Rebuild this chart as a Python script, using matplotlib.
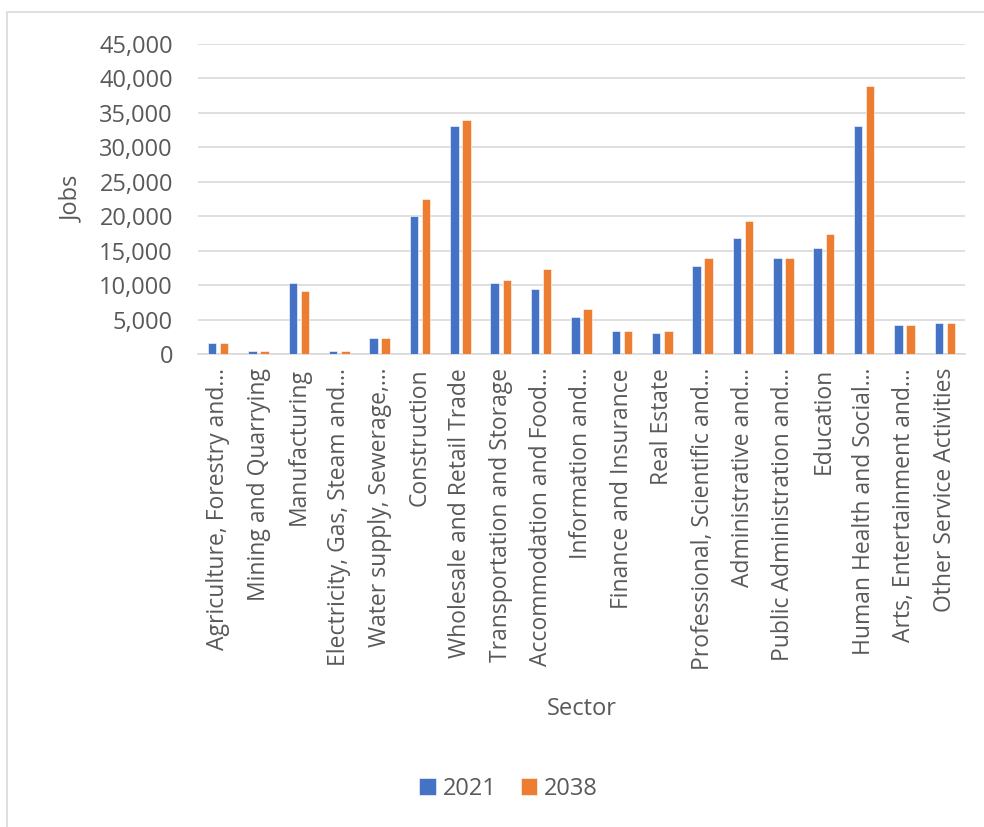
import matplotlib
matplotlib.use("Agg")
import matplotlib.pyplot as plt
import numpy as np
from matplotlib.patches import Rectangle
from matplotlib.ticker import FuncFormatter

plt.rcParams["font.family"] = ["Open Sans", "DejaVu Sans"]

# ---------------------------------------------------------------------------
# Data
# ---------------------------------------------------------------------------
sectors = [
    "Agriculture, Forestry and…",
    "Mining and Quarrying",
    "Manufacturing",
    "Electricity, Gas, Steam and…",
    "Water supply, Sewerage,…",
    "Construction",
    "Wholesale and Retail Trade",
    "Transportation and Storage",
    "Accommodation and Food…",
    "Information and…",
    "Finance and Insurance",
    "Real Estate",
    "Professional, Scientific and…",
    "Administrative and…",
    "Public Administration and…",
    "Education",
    "Human Health and Social…",
    "Arts, Entertainment and…",
    "Other Service Activities",
]
jobs_2021 = [1550, 400, 10350, 400, 2400, 20100, 33100, 10350, 9500, 5350,
             3300, 3000, 12750, 16900, 13900, 15400, 33100, 4200, 4500]
jobs_2038 = [1550, 400, 9200, 400, 2400, 22450, 34000, 10700, 12400, 6550,
             3300, 3300, 13900, 19250, 13900, 17450, 38950, 4200, 4500]

BLUE = "#4472C4"
ORANGE = "#ED7D31"
GRID = "#d9d9d9"
TEXT = "#595959"

fig = plt.figure(figsize=(9.84, 8.27), dpi=100)
fig.patches.append(Rectangle((0.007, -0.01), 1.1, 0.995, transform=fig.transFigure,
                             fill=False, edgecolor=GRID, linewidth=1.2))

ax = fig.add_axes([0.2012, 0.5719, 0.7795, 0.3749])
x = np.arange(len(sectors))
w = 0.21
ax.bar(x - 0.15, jobs_2021, width=w, color=BLUE, edgecolor="white", linewidth=0.4,
       label="2021", zorder=3)
ax.bar(x + 0.15, jobs_2038, width=w, color=ORANGE, edgecolor="white", linewidth=0.4,
       label="2038", zorder=3)

ax.set_xlim(-0.5, len(sectors) - 0.5)
ax.set_ylim(0, 45000)
ax.set_yticks(np.arange(0, 45001, 5000))
ax.yaxis.set_major_formatter(FuncFormatter(lambda v, p: f"{int(v):,}"))
ax.grid(axis="y", color=GRID, linewidth=1.2, zorder=0)
for s in ["top", "right", "left"]:
    ax.spines[s].set_visible(False)
ax.spines["bottom"].set_color(GRID)
ax.spines["bottom"].set_linewidth(1.2)
ax.tick_params(axis="both", length=0, colors=TEXT)
ax.tick_params(axis="y", labelsize=17, pad=18)

ax.set_xticks(x)
ax.set_xticklabels(sectors, rotation=90, fontsize=16.5, color=TEXT)
ax.tick_params(axis="x", pad=10)

ax.set_ylabel("Jobs", fontsize=17, color=TEXT, labelpad=11)
ax.set_xlabel("Sector", fontsize=17, color=TEXT, labelpad=19)

fig.legend(loc="center", bbox_to_anchor=(0.517, 0.046), ncol=2, frameon=False,
           fontsize=17, handlelength=0.7, handleheight=0.7, handletextpad=0.3,
           columnspacing=1.0, labelcolor=TEXT)

fig.savefig("out.png", dpi=100, facecolor="white")
